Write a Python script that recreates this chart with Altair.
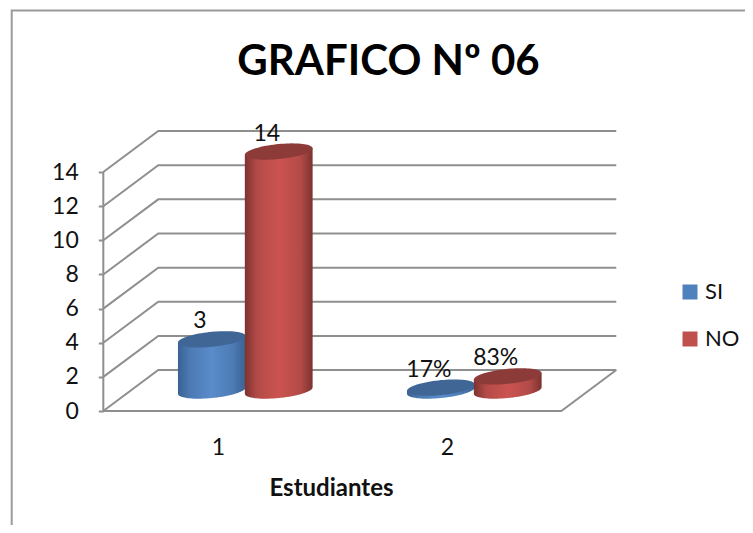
import math
import altair as alt
import pandas as pd

TITLE = "GRAFICO Nº 06"
X_TITLE = "Estudiantes"
SERIES = ["SI", "NO"]
SI_VALUES = [3, 0.17]
NO_VALUES = [14, 0.83]
SI_LABELS = ["3", "17%"]
NO_LABELS = ["14", "83%"]
GROUPS = [1, 2]
Y_TICKS = [0, 2, 4, 6, 8, 10, 12, 14]
FONT = "Lato"
TEXT = "#111111"
GRID = "#8f8f8f"
SI_STOPS = ["#3a6293", "#4c7ab3", "#5a8ccb", "#4c7ab3", "#3a6293"]
NO_STOPS = ["#7d322f", "#b34b48", "#cb5350", "#b34b48", "#7d322f"]
SI_TOP = "#3f6695"
NO_TOP = "#8c3b39"

# scale calibration (data units seen in the plot)
X_DOM = [0.0838, 3.3021]
Y_DOM = [-6.678, 23.61]
DX, DY = 0.24, 2.4       # depth of the 3-D box, in data units
R_X, R_Y, TILT = 0.148, 0.44, 0.19  # cylinder ellipse, in data units
GAP = 0.146

x_scale = alt.Scale(domain=X_DOM, nice=False, zero=False)
y_scale = alt.Scale(domain=Y_DOM, nice=False, zero=False)
x_axis = alt.Axis(
    orient="bottom", values=GROUPS, format="d", offset=-114, domain=False, ticks=False, grid=False,
    labelFont=FONT, labelFontSize=23, labelColor=TEXT, labelPadding=25,
    titleFont=FONT, titleFontSize=24, titleFontWeight="bold", titleColor=TEXT,
    titleX=323, titleY=65, titleAnchor="middle",
)
y_axis = alt.Axis(
    orient="left", values=Y_TICKS, format="d", offset=-95.3, domain=False, grid=False,
    tickColor=GRID, tickSize=5, tickWidth=2, labelFont=FONT, labelFontSize=23,
    labelColor=TEXT, labelPadding=20, title=None,
)
X = alt.X("x:Q", scale=x_scale, title=X_TITLE, axis=x_axis)
Y = alt.Y("y:Q", scale=y_scale, title=None, axis=y_axis)


def polyline(points, width=2, color=GRID):
    df = pd.DataFrame([{"x": a, "y": b, "o": i} for i, (a, b) in enumerate(points)])
    return alt.Chart(df).mark_line(color=color, strokeWidth=width).encode(x=X, y=Y, order="o:Q")


def grad(stops):
    return alt.Gradient(
        gradient="linear", x1=0, x2=1, y1=0, y2=0,
        stops=[alt.GradientStop(offset=o, color=c) for o, c in zip([0, 0.18, 0.5, 0.82, 1], stops)],
    )


def arcs(cx, cy, n=40):
    rows = []
    for i in range(n + 1):
        t = math.pi * (1 - i / n)
        u = math.cos(t)
        s = math.sin(t)
        rows.append((cx + R_X * u, cy + TILT * u, R_Y * s))
    return rows


def cylinder(group, offset, value, stops, top):
    cx = group + offset + DX / 2
    base = DY / 2
    body = pd.DataFrame([
        {"x": x, "y": c - h, "y2": c + value} for x, c, h in arcs(cx, base)
    ])
    cap = pd.DataFrame([
        {"x": x, "y": c + value - h, "y2": c + value + h} for x, c, h in arcs(cx, base)
    ])
    return [
        alt.Chart(body).mark_area(color=grad(stops), line=False).encode(x=X, y=Y, y2="y2:Q"),
        alt.Chart(cap).mark_area(color=top, line=False).encode(x=X, y=Y, y2="y2:Q"),
    ]


layers = []

# outer frame of the picture (left and top edges; the rest runs off the page)
layers.append(polyline([(0.1, -6.678), (0.1, 23.47), (3.3021, 23.47)], 2, "#9a9a9a"))

# 3-D box: grid on side and back wall, floor
LEFT, RIGHT = 0.5, 2.5
for v in Y_TICKS:
    layers.append(polyline([(LEFT, v), (LEFT + DX, v + DY), (RIGHT + DX, v + DY)]))
layers.append(polyline([(LEFT, 14), (LEFT, 0), (RIGHT, 0), (RIGHT + DX, DY)]))

# legend carrier, hidden behind the red cylinder
legend_df = pd.DataFrame({"x": [1.266, 1.266], "y": [6, 6], "serie": SERIES})
layers.append(
    alt.Chart(legend_df).mark_square(size=100, opacity=1).encode(
        x=X, y=Y,
        color=alt.Color("serie:N", sort=SERIES,
                        scale=alt.Scale(domain=SERIES, range=["#4f81bd", "#c0504d"]),
                        legend=alt.Legend(
                            orient="none", legendX=671, legendY=273, title=None,
                            symbolType="square", symbolSize=225, symbolStrokeWidth=0,
                            labelFont=FONT, labelFontSize=22, labelColor=TEXT,
                            labelOffset=4, rowPadding=25, symbolOpacity=1,
                        )),
    )
)

# cylinders
for g, si, no in zip(GROUPS, SI_VALUES, NO_VALUES):
    layers += cylinder(g, -GAP, si, SI_STOPS, SI_TOP)
    layers += cylinder(g, GAP, no, NO_STOPS, NO_TOP)

# data labels
rows = []
for g, si, no, a, b in zip(GROUPS, SI_VALUES, NO_VALUES, SI_LABELS, NO_LABELS):
    rows.append({"x": g - GAP + DX / 2, "y": si + DY / 2, "t": a})
    rows.append({"x": g + GAP + DX / 2, "y": no + DY / 2, "t": b})
layers.append(
    alt.Chart(pd.DataFrame(rows)).mark_text(
        font=FONT, fontSize=23, color=TEXT, dx=-12, dy=-18, baseline="middle"
    ).encode(x=X, y=Y, text="t:N")
)

chart = alt.layer(*layers).properties(
    width=737, height=517, padding=0,
    autosize=alt.AutoSizeParams(type="none"),
    title=alt.TitleParams(
        TITLE, font=FONT, fontSize=42, fontWeight="bold", color="#000000",
        anchor="middle", offset=-78, dx=12,
    ),
).configure_view(stroke=None)

chart.save("out.html", embed_options={"renderer": "svg", "actions": False})
